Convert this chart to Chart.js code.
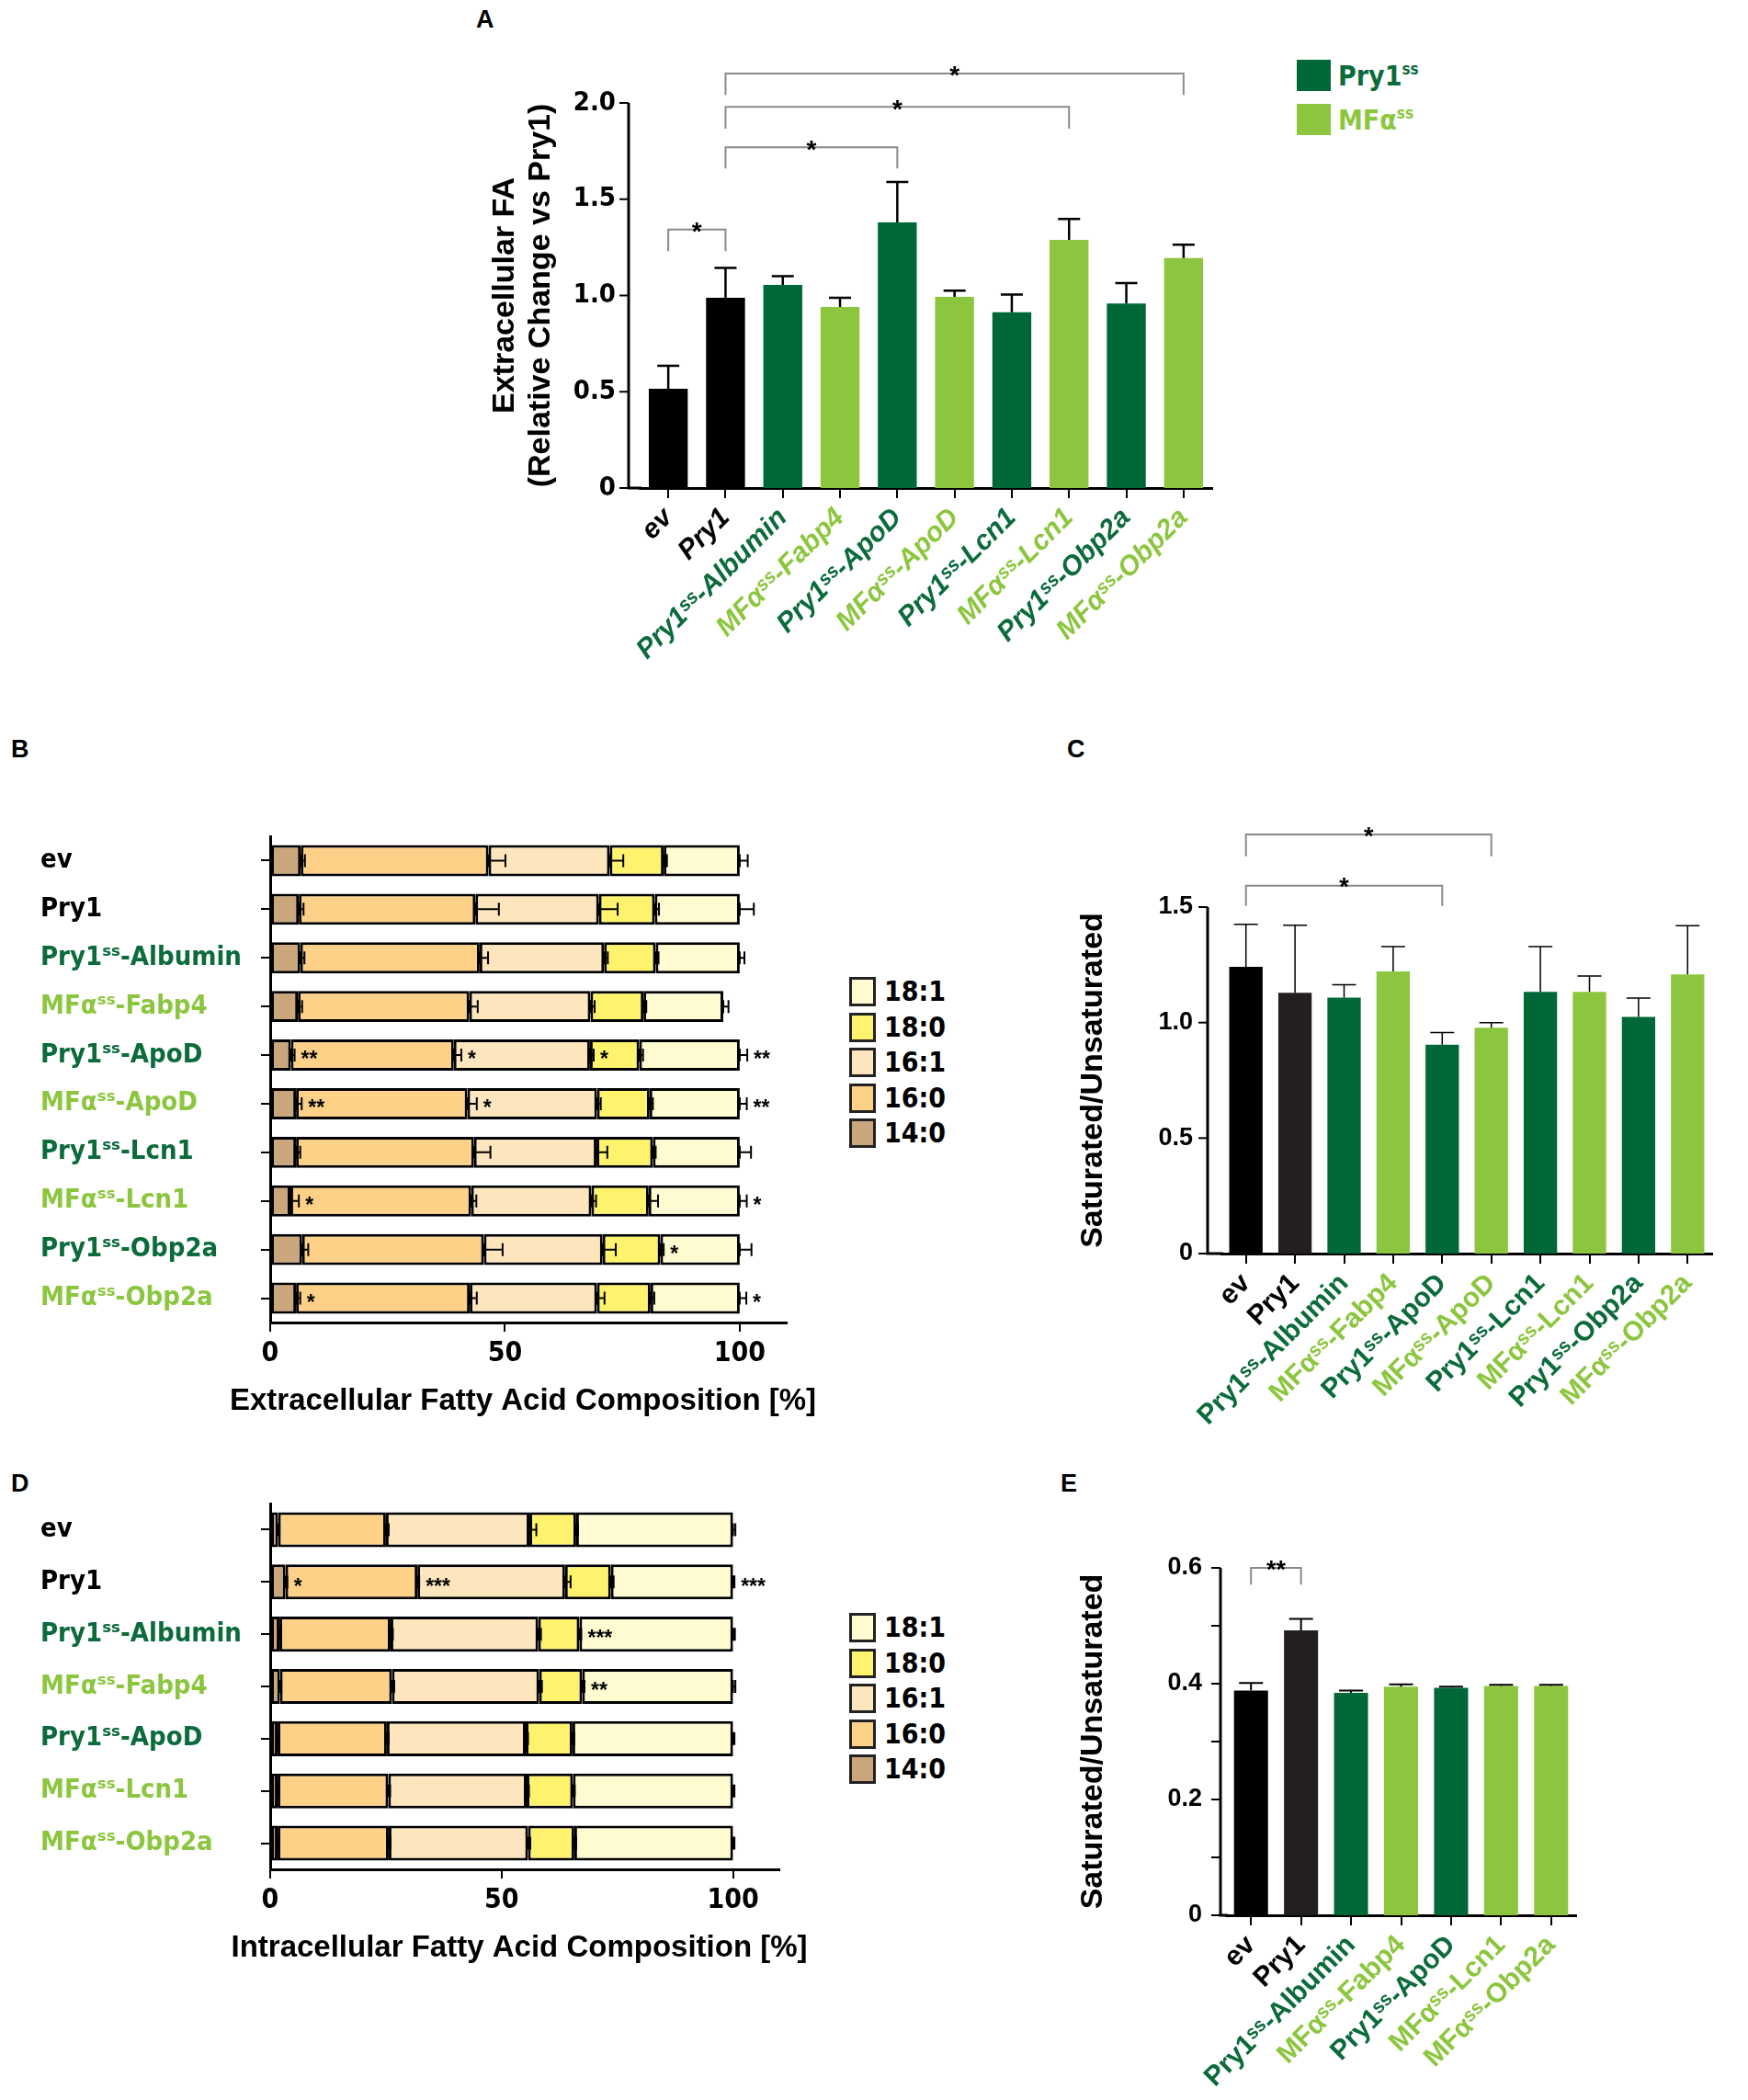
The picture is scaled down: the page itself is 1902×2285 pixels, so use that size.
<!DOCTYPE html>
<html>
<head>
<meta charset="utf-8">
<script src="https://cdn.jsdelivr.net/npm/chart.js@4.4.1/dist/chart.umd.min.js"></script>
<style>
  body { margin: 0; background: #fff; width: 1902px; height: 2285px; position: relative; overflow: hidden;
         font-family: 'Liberation Sans', Arial, sans-serif; }
  canvas { position: absolute; }
  .panel { position: absolute; font-weight: bold; font-size: 27px; color: #000; }
  .box { position: absolute; border: 3px solid #222; box-sizing: border-box; }
  .legtxt { position: absolute; font-weight: bold; font-size: 30px; line-height: 1;
            font-family: 'Liberation Sans Narrow', 'DejaVu Sans Condensed', 'Liberation Sans', sans-serif; }
  .legtxt sup { font-size: 17px; vertical-align: 12px; }
</style>
</head>
<body>

<div class="panel" style="left:518px;top:6px;">A</div>
<div class="panel" style="left:12px;top:800px;">B</div>
<div class="panel" style="left:1161px;top:800px;">C</div>
<div class="panel" style="left:12px;top:1599px;">D</div>
<div class="panel" style="left:1154px;top:1599px;">E</div>

<!-- legend A -->
<div class="box" style="left:1411px;top:65px;width:37px;height:34px;background:#006837;border:none"></div>
<div class="legtxt" style="left:1456px;top:67px;color:#0b6b3a">Pry1<sup>ss</sup></div>
<div class="box" style="left:1411px;top:113px;width:37px;height:34px;background:#8cc63f;border:none"></div>
<div class="legtxt" style="left:1456px;top:115px;color:#8cc63f">MFα<sup>ss</sup></div>

<canvas id="cA" width="804" height="751" style="left:530px;top:0px"></canvas>
<canvas id="cB" width="886" height="671" style="left:34px;top:880px"></canvas>
<canvas id="cC" width="713" height="704" style="left:1170px;top:860px"></canvas>
<canvas id="cD" width="878" height="536" style="left:34px;top:1610px"></canvas>
<canvas id="cE" width="565" height="644" style="left:1170px;top:1640px"></canvas>

<div id="legB"></div>
<div id="legD"></div>

<script>
// ---- data ----
const catsExt = ["ev", "Pry1", "Pry1ˢˢ-Albumin", "MFαˢˢ-Fabp4", "Pry1ˢˢ-ApoD", "MFαˢˢ-ApoD",
                 "Pry1ˢˢ-Lcn1", "MFαˢˢ-Lcn1", "Pry1ˢˢ-Obp2a", "MFαˢˢ-Obp2a"];
const catsInt = ["ev", "Pry1", "Pry1ˢˢ-Albumin", "MFαˢˢ-Fabp4", "Pry1ˢˢ-ApoD", "MFαˢˢ-Lcn1", "MFαˢˢ-Obp2a"];

// A: extracellular FA, relative to Pry1
const extFA    = [0.516, 0.988, 1.055, 0.940, 1.380, 0.993, 0.913, 1.289, 0.958, 1.195];
const extFAerr = [0.119, 0.155, 0.045, 0.048, 0.210, 0.032, 0.092, 0.108, 0.106, 0.069];

// B: extracellular composition [%]
const fattyAcids = ["14:0", "16:0", "16:1", "18:0", "18:1"];
const compTicks = [0, 50, 100];
const ext14_0 = [6.5, 6.1, 6.4, 5.9, 4.4, 5.5, 5.5, 4.3, 6.8, 5.5];
const ext16_0 = [40.0, 37.6, 38.2, 36.5, 34.7, 36.5, 37.9, 38.5, 38.7, 37.0];
const ext16_1 = [25.8, 26.3, 26.5, 25.8, 29.0, 27.6, 26.1, 25.6, 25.3, 27.1];
const ext18_0 = [11.5, 11.9, 11.0, 11.3, 10.5, 11.2, 12.0, 12.2, 12.3, 11.4];
const ext18_1 = [16.2, 18.1, 17.9, 17.0, 21.4, 19.2, 18.5, 19.4, 16.9, 19.0];
const ext14_0err = [0.9, 1.0, 0.9, 0.9, 0.8, 1.2, 0.9, 1.8, 1.3, 0.9];
const ext16_0err = [3.6, 5.0, 1.8, 1.8, 1.6, 2.0, 3.5, 1.1, 4.0, 1.5];
const ext16_1err = [2.9, 4.0, 0.8, 0.9, 0.8, 0.8, 2.3, 1.0, 2.8, 1.6];
const ext18_0err = [0.7, 0.9, 0.6, 0.6, 0.8, 0.7, 0.6, 2.0, 0.7, 0.8];
const ext18_1err = [1.7, 3.0, 1.0, 1.1, 1.6, 1.5, 2.4, 1.5, 2.5, 1.4];
// [row, segment end, text]
const starsB = [[4, 0, "**"], [4, 1, "*"], [4, 2, "*"], [4, 4, "**"],
                [5, 0, "**"], [5, 1, "*"], [5, 4, "**"],
                [7, 0, "*"], [7, 4, "*"], [8, 3, "*"], [9, 0, "*"], [9, 4, "*"]];

// C: extracellular saturated / unsaturated
const extRatio    = [1.241, 1.129, 1.108, 1.221, 0.904, 0.978, 1.133, 1.133, 1.025, 1.209];
const extRatioErr = [0.184, 0.292, 0.056, 0.108, 0.053, 0.022, 0.196, 0.069, 0.081, 0.210];

// D: intracellular composition [%]
const int14_0 = [1.7, 3.3, 2.0, 2.1, 1.6, 1.6, 1.6];
const int16_0 = [23.3, 28.5, 24.0, 24.2, 23.6, 23.9, 24.0];
const int16_1 = [31.0, 31.9, 31.9, 31.8, 30.0, 29.9, 30.1];
const int18_0 = [10.1, 9.9, 8.9, 9.3, 10.1, 10.0, 10.0];
const int18_1 = [33.9, 26.4, 33.2, 32.6, 34.7, 34.6, 34.3];
const int14_0err = [0.3, 0.4, 0.3, 0.3, 0.3, 0.3, 0.3];
const int16_0err = [0.6, 0.4, 0.5, 0.5, 0.4, 0.4, 0.4];
const int16_1err = [1.5, 1.2, 0.6, 0.6, 0.5, 0.5, 0.5];
const int18_0err = [0.4, 0.6, 0.4, 0.5, 0.4, 0.4, 0.4];
const int18_1err = [0.5, 0.3, 0.4, 0.5, 0.3, 0.3, 0.3];
const starsD = [[1, 0, "*"], [1, 1, "***"], [1, 4, "***"], [2, 3, "***"], [3, 3, "**"]];

// E: intracellular saturated / unsaturated
const intRatio    = [0.388, 0.492, 0.384, 0.395, 0.393, 0.396, 0.396];
const intRatioErr = [0.013, 0.020, 0.004, 0.004, 0.002, 0.002, 0.002];

// significance brackets: [from, to, top, leg bottom, text]
const bracketsA = [[0, 1, 1.343, 1.23, "*"], [1, 4, 1.77, 1.66, "*"],
                   [1, 7, 1.98, 1.866, "*"], [1, 9, 2.153, 2.042, "*"]];
const bracketsC = [[0, 4, 1.593, 1.505, "*"], [0, 5, 1.814, 1.72, "*"]];
const bracketsE = [[0, 1, 0.600, 0.571, "**"]];

// ---- styles ----
const DARK = "#006837", LIGHT = "#8cc63f", DARKTXT = "#0b6b3a";
const ARIAL = "'Liberation Sans', Arial, sans-serif";
const NARROW = "'Liberation Sans Narrow', 'DejaVu Sans Condensed', 'Liberation Sans', sans-serif";
const segColors = ["#c9a67c", "#fdd188", "#fde6bd", "#fff36e", "#fffbd0"];
const barColorsExt = ["#000", "#000", DARK, LIGHT, DARK, LIGHT, DARK, LIGHT, DARK, LIGHT];
const barColorsExtC = ["#000", "#231f20", DARK, LIGHT, DARK, LIGHT, DARK, LIGHT, DARK, LIGHT];
const barColorsInt = ["#000", "#231f20", DARK, LIGHT, DARK, LIGHT, LIGHT];
const txtColorsExt = ["#000", "#000", DARKTXT, LIGHT, DARKTXT, LIGHT, DARKTXT, LIGHT, DARKTXT, LIGHT];
const txtColorsInt = ["#000", "#000", DARKTXT, LIGHT, DARKTXT, LIGHT, LIGHT];

// ---- legends B / D (html) ----
function makeLegend(el, top) {
  const order = [4, 3, 2, 1, 0];
  let html = "";
  order.forEach((k, j) => {
    const y = top + j * 38.5;
    html += `<div class="box" style="left:924px;top:${y}px;width:29px;height:32px;background:${segColors[k]}"></div>`;
    html += `<div class="legtxt" style="left:962px;top:${y + 1}px;color:#000">${fattyAcids[k]}</div>`;
  });
  document.getElementById(el).innerHTML = html;
}
makeLegend("legB", 1063);
makeLegend("legD", 1755);

// ---- plugins ----
function vErrors(errs, lw, cap) {
  return {
    id: "vErrors",
    afterDatasetsDraw(chart) {
      const ctx = chart.ctx, ys = chart.scales.y;
      const vals = chart.data.datasets[0].data;
      ctx.save();
      ctx.strokeStyle = "#000";
      ctx.lineWidth = lw;
      chart.getDatasetMeta(0).data.forEach((bar, i) => {
        const yt = ys.getPixelForValue(vals[i] + errs[i]);
        ctx.beginPath();
        ctx.moveTo(bar.x, bar.y);
        ctx.lineTo(bar.x, yt);
        ctx.moveTo(bar.x - cap / 2, yt);
        ctx.lineTo(bar.x + cap / 2, yt);
        ctx.stroke();
      });
      ctx.restore();
    }
  };
}

// y axis drawn a little left of the first category, like the original
function axisGap(gap) {
  return {
    id: "axisGap",
    afterDraw(chart) {
      const ctx = chart.ctx, ys = chart.scales.y, a = chart.chartArea;
      const ax = a.left - gap;
      ctx.save();
      ctx.strokeStyle = "#000";
      ctx.lineWidth = 3;
      ctx.beginPath();
      ctx.moveTo(ax, a.top);
      ctx.lineTo(ax, a.bottom + 1.5);
      ctx.moveTo(ax - 1.5, a.bottom);
      ctx.lineTo(a.left + 2, a.bottom);
      ctx.stroke();
      ctx.lineWidth = 2;
      ys.ticks.forEach((t, i) => {
        const y = ys.getPixelForTick(i);
        ctx.beginPath();
        ctx.moveTo(ax - 10, y);
        ctx.lineTo(ax, y);
        ctx.stroke();
      });
      ctx.restore();
    }
  };
}

function brackets(list, fontSize) {
  return {
    id: "brackets",
    afterDraw(chart) {
      const ctx = chart.ctx, xs = chart.scales.x, ys = chart.scales.y;
      ctx.save();
      ctx.strokeStyle = "#8a8a8a";
      ctx.lineWidth = 2;
      ctx.fillStyle = "#000";
      ctx.font = `bold ${fontSize}px ${ARIAL}`;
      ctx.textAlign = "center";
      ctx.textBaseline = "alphabetic";
      list.forEach(([a, b, top, leg, txt]) => {
        const x1 = xs.getPixelForTick(a), x2 = xs.getPixelForTick(b);
        const yt = ys.getPixelForValue(top), yl = ys.getPixelForValue(leg);
        ctx.beginPath();
        ctx.moveTo(x1, yl);
        ctx.lineTo(x1, yt);
        ctx.lineTo(x2, yt);
        ctx.lineTo(x2, yl);
        ctx.stroke();
        ctx.fillText(txt, (x1 + x2) / 2, yt - 4 + fontSize * 0.55);
      });
      ctx.restore();
    }
  };
}

function hErrors(errSets, stars) {
  return {
    id: "hErrors",
    afterDatasetsDraw(chart) {
      const ctx = chart.ctx, xs = chart.scales.x;
      const ppu = xs.getPixelForValue(1) - xs.getPixelForValue(0);
      ctx.save();
      ctx.strokeStyle = "#000";
      ctx.lineWidth = 2;
      errSets.forEach((errs, d) => {
        chart.getDatasetMeta(d).data.forEach((bar, i) => {
          const x1 = bar.x + errs[i] * ppu;
          ctx.beginPath();
          ctx.moveTo(bar.x, bar.y - 7);
          ctx.lineTo(bar.x, bar.y + 7);
          ctx.moveTo(bar.x, bar.y);
          ctx.lineTo(x1, bar.y);
          ctx.moveTo(x1, bar.y - 7);
          ctx.lineTo(x1, bar.y + 7);
          ctx.stroke();
        });
      });
      ctx.fillStyle = "#000";
      ctx.font = `bold 23px ${ARIAL}`;
      ctx.textAlign = "left";
      ctx.textBaseline = "middle";
      stars.forEach(([row, seg, txt]) => {
        const bar = chart.getDatasetMeta(seg).data[row];
        const x = bar.x + errSets[seg][row] * ppu + 7;
        ctx.fillText(txt, x, bar.y + 6);
      });
      ctx.restore();
    }
  };
}

// axis title wider than the plot area (Chart.js would squeeze it)
function wideTitle(text) {
  return {
    id: "wideTitle",
    afterDraw(chart) {
      const ctx = chart.ctx, a = chart.chartArea;
      ctx.save();
      ctx.fillStyle = "#000";
      ctx.font = `bold 33px ${ARIAL}`;
      ctx.textAlign = "center";
      ctx.textBaseline = "middle";
      ctx.fillText(text, (a.left + a.right) / 2 - 6, a.bottom + 86);
      ctx.restore();
    }
  };
}

// ---- builders ----
function vBarChart(id, cats, vals, colors, txtColors, opt) {
  return new Chart(document.getElementById(id), {
    type: "bar",
    data: {
      labels: cats,
      datasets: [{ data: vals, backgroundColor: colors, barPercentage: 0.68, categoryPercentage: 1 }]
    },
    options: {
      responsive: false, animation: false, devicePixelRatio: 1,
      layout: { padding: { left: 0, top: opt.padTop, right: opt.padRight, bottom: 0 } },
      plugins: { legend: { display: false }, tooltip: { enabled: false } },
      scales: {
        x: {
          grid: { display: true, offset: false, drawOnChartArea: false, tickLength: 11, color: "#000", lineWidth: 2 },
          border: { color: "#000", width: 3 },
          ticks: {
            minRotation: 45, maxRotation: 45, padding: 4, autoSkip: false,
            color: c => txtColors[c.index],
            font: { family: ARIAL, size: 30, weight: "bold", style: opt.italic ? "italic" : "normal" }
          },
          afterFit: s => { s.height = opt.xHeight; }
        },
        y: {
          min: 0, max: opt.max,
          grid: { display: false },
          border: { display: false },
          ticks: {
            stepSize: opt.step, padding: opt.tickPad + opt.gap, color: "#000",
            font: { family: opt.tickFamily, size: opt.tickSize, weight: "bold" },
            callback: opt.tickCb
          },
          title: { display: true, text: opt.title, color: "#000", padding: { top: 0, bottom: 0 },
                   font: { family: ARIAL, size: 34, weight: "bold", lineHeight: 1.15 } },
          afterFit: s => { s.width = opt.yWidth; }
        }
      }
    },
    plugins: [vErrors(opt.errs, opt.errLw, opt.cap), axisGap(opt.gap), brackets(opt.brackets, opt.starSize)]
  });
}

function hStackChart(id, cats, series, errSets, stars, txtColors, opt) {
  return new Chart(document.getElementById(id), {
    type: "bar",
    data: {
      labels: cats,
      datasets: series.map((d, k) => ({
        label: fattyAcids[k], data: d, backgroundColor: segColors[k],
        borderColor: "#000", borderWidth: 3, borderSkipped: false,
        barPercentage: opt.barPct, categoryPercentage: 1
      }))
    },
    options: {
      indexAxis: "y",
      responsive: false, animation: false, devicePixelRatio: 1,
      layout: { padding: { left: 10, top: opt.padTop, right: 64, bottom: 0 } },
      plugins: { legend: { display: false }, tooltip: { enabled: false } },
      scales: {
        x: {
          stacked: true, min: 0, max: 110,
          grid: { display: true, drawOnChartArea: false, tickLength: 10, color: "#000", lineWidth: 2 },
          border: { color: "#000", width: 3 },
          ticks: { padding: 6, color: "#000", font: { family: NARROW, size: 30, weight: "bold" } },
          afterBuildTicks: s => { s.ticks = compTicks.map(v => ({ value: v })); },
          afterFit: s => { s.height = 112; }
        },
        y: {
          stacked: true,
          grid: { display: true, offset: false, drawOnChartArea: false, tickLength: 10, color: "#000", lineWidth: 2 },
          border: { color: "#000", width: 3 },
          ticks: {
            crossAlign: "far", padding: 4, autoSkip: false,
            color: c => txtColors[c.index],
            font: { family: NARROW, size: 29, weight: "bold" }
          },
          afterFit: s => { s.width = 250; }
        }
      }
    },
    plugins: [hErrors(errSets, stars), wideTitle(opt.title)]
  });
}

// ---- charts ----
vBarChart("cA", catsExt, extFA, barColorsExt, txtColorsExt, {
  padTop: 112, padRight: 15, xHeight: 220, yWidth: 166, gap: 12, max: 2, step: 0.5, italic: true,
  tickFamily: NARROW, tickSize: 29, tickPad: 6, tickCb: v => (v === 0 ? "0" : v.toFixed(1)),
  title: ["Extracellular FA", "(Relative Change vs Pry1)"],
  errs: extFAerr, errLw: 2.5, cap: 24, brackets: bracketsA, starSize: 28
});

hStackChart("cB", catsExt, [ext14_0, ext16_0, ext16_1, ext18_0, ext18_1],
  [ext14_0err, ext16_0err, ext16_1err, ext18_0err, ext18_1err], starsB, txtColorsExt,
  { padTop: 30, barPct: 0.64, title: "Extracellular Fatty Acid Composition [%]" });

vBarChart("cC", catsExt, extRatio, barColorsExtC, txtColorsExt, {
  padTop: 127, padRight: 20, xHeight: 200, yWidth: 159, gap: 15, max: 1.5, step: 0.5, italic: false,
  tickFamily: ARIAL, tickSize: 27, tickPad: 8, tickCb: v => (v === 0 ? "0" : v.toFixed(1)),
  title: "Saturated/Unsaturated",
  errs: extRatioErr, errLw: 1.5, cap: 26, brackets: bracketsC, starSize: 27
});

hStackChart("cD", catsInt, [int14_0, int16_0, int16_1, int18_0, int18_1],
  [int14_0err, int16_0err, int16_1err, int18_0err, int18_1err], starsD, txtColorsInt,
  { padTop: 26, barPct: 0.67, title: "Intracellular Fatty Acid Composition [%]" });

vBarChart("cE", catsInt, intRatio, barColorsInt, txtColorsInt, {
  padTop: 66, padRight: 20, xHeight: 200, yWidth: 164, gap: 6, max: 0.6, step: 0.1, italic: false,
  tickFamily: ARIAL, tickSize: 27, tickPad: 12,
  tickCb: v => { const k = Math.round(v * 10); return k === 0 ? "0" : (k % 2 === 0 ? v.toFixed(1) : ""); },
  title: "Saturated/Unsaturated",
  errs: intRatioErr, errLw: 2, cap: 26, brackets: bracketsE, starSize: 27
});
</script>
</body>
</html>
